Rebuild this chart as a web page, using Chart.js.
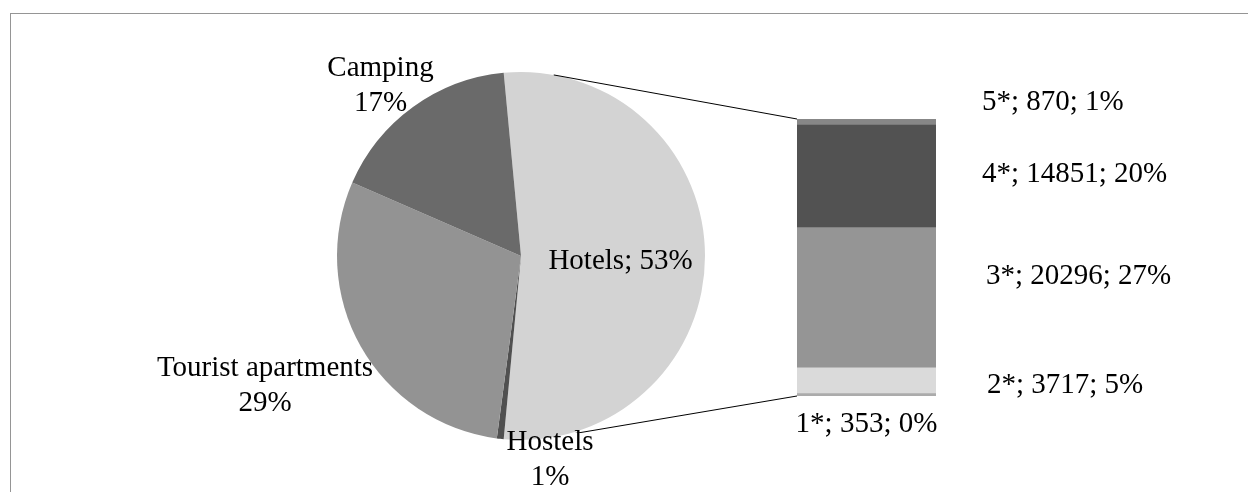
<!DOCTYPE html>
<html>
<head>
<meta charset="utf-8">
<script src="https://cdn.jsdelivr.net/npm/chart.js@4.4.1/dist/chart.umd.min.js"></script>
<style>
  html, body { margin: 0; padding: 0; background: #fff; }
  #wrap { position: relative; width: 1248px; height: 492px; overflow: hidden; }
  #wrap canvas { position: absolute; left: 0; top: 0; }
  #frame { position: absolute; left: 10px; top: 13px; right: -5px; bottom: -5px;
           border-top: 1px solid #959595; border-left: 1px solid #959595; }
</style>
</head>
<body>
<div id="wrap">
  <div id="frame"></div>
  <canvas id="pieChart" width="1248" height="492"></canvas>
  <canvas id="barChart" width="1248" height="492"></canvas>
</div>
<script>
// hotels broken down by star class (bottom to top of the bar)
const hotelClasses = ['1*', '2*', '3*', '4*', '5*'];
const hotelValues = [353, 3717, 20296, 14851, 870];

// the rest of the accommodation types
const otherLabels = ['Hostels', 'Tourist apartments', 'Camping'];
const otherValues = [454, 22259, 12836];

const hotelsTotal = hotelValues.reduce((a, b) => a + b, 0);
const pieLabels = ['Hotels', ...otherLabels];
const pieValues = [hotelsTotal, ...otherValues];
const grandTotal = pieValues.reduce((a, b) => a + b, 0);

const pieColors = ['#d3d3d3', '#505050', '#939393', '#6a6a6a'];
const barColors = ['#ababab', '#dadada', '#959595', '#525252', '#878787'];

const FONT = '29px "Liberation Serif", "Times New Roman", serif';
const LINE_H = 35;

const pct = v => Math.round(v / grandTotal * 100) + '%';

// label anchors relative to pie centre: [dx, dy of middle baseline]
const pieLabelAt = [[99.5, 13], [29, 211.5], [-256, 137], [-140.5, -163]];

// bar labels: [dx from bar right edge, baseline dy from segment middle]
const barLabelAt = [null, [51, 12], [50, -14], [46, 6], [46, -12]];

function drawLines(ctx, lines, x, yMid) {
  const y0 = yMid - (lines.length - 1) * LINE_H / 2;
  lines.forEach((t, i) => ctx.fillText(t, x, y0 + i * LINE_H));
}

function hostelsBox(ctx, arc) {
  ctx.font = FONT;
  const w = ctx.measureText('Hostels').width;
  const [dx, dy] = pieLabelAt[1];
  const baseline = arc.y + dy - LINE_H / 2;
  return { x: arc.x + dx - w / 2 - 2, y: baseline - 17, w: w + 4, h: 80 };
}

const pieLabelPlugin = {
  id: 'pieLabels',
  afterDraw(chart) {
    const ctx = chart.ctx;
    const arc = chart.getDatasetMeta(0).data[0];
    ctx.save();
    ctx.font = FONT;
    ctx.fillStyle = '#000';
    ctx.textAlign = 'center';
    ctx.textBaseline = 'alphabetic';
    pieLabels.forEach((name, i) => {
      const [dx, dy] = pieLabelAt[i];
      const p = pct(pieValues[i]);
      const lines = i === 0 ? [name + '; ' + p] : [name, p];
      drawLines(ctx, lines, arc.x + dx, arc.y + dy);
    });
    ctx.restore();
  }
};

// tangent point on the pie circle seen from point (px, py)
function tangent(arc, px, py, upper) {
  const r = arc.outerRadius;
  const dx = px - arc.x, dy = py - arc.y;
  const phi = Math.atan2(dy, dx);
  const a = Math.acos(r / Math.hypot(dx, dy));
  const t = upper ? phi - a : phi + a;
  return [arc.x + r * Math.cos(t), arc.y + r * Math.sin(t)];
}

const barLabelPlugin = {
  id: 'barLabels',
  afterDraw(chart) {
    const ctx = chart.ctx;
    const metas = hotelClasses.map((_, i) => chart.getDatasetMeta(i).data[0]);
    const top = metas[metas.length - 1];
    const bottom = metas[0];
    const left = top.x - top.width / 2;
    const right = top.x + top.width / 2;

    // series lines from the pie to the bar
    const arc = pieChart.getDatasetMeta(0).data[0];
    const box = hostelsBox(ctx, arc);
    ctx.save();
    ctx.beginPath();
    ctx.rect(0, 0, chart.width, chart.height);
    ctx.rect(box.x, box.y, box.w, box.h);
    ctx.clip('evenodd');
    ctx.strokeStyle = '#000';
    ctx.lineWidth = 1;
    const t1 = tangent(arc, left, top.y, true);
    const t2 = tangent(arc, left, bottom.base, false);
    ctx.beginPath();
    ctx.moveTo(t1[0], t1[1]);
    ctx.lineTo(left, top.y);
    ctx.moveTo(t2[0], t2[1]);
    ctx.lineTo(left, bottom.base);
    ctx.stroke();
    ctx.restore();

    ctx.save();
    ctx.font = FONT;
    ctx.fillStyle = '#000';
    ctx.textBaseline = 'alphabetic';
    hotelClasses.forEach((c, i) => {
      const el = metas[i];
      const text = c + '; ' + hotelValues[i] + '; ' + pct(hotelValues[i]);
      if (i === 0) {
        ctx.textAlign = 'center';
        ctx.fillText(text, el.x, el.base + 36);
      } else {
        const [dx, dy] = barLabelAt[i];
        ctx.textAlign = 'left';
        ctx.fillText(text, right + dx, (el.y + el.base) / 2 + dy);
      }
    });
    ctx.restore();
  }
};

const pieChart = new Chart(document.getElementById('pieChart'), {
  type: 'pie',
  data: {
    labels: pieLabels,
    datasets: [{
      data: pieValues,
      backgroundColor: pieColors,
      borderWidth: 0
    }]
  },
  options: {
    responsive: false,
    animation: false,
    events: [],
    // hotels slice centred on the right-hand side
    rotation: 90 - 180 * hotelsTotal / grandTotal,
    layout: { padding: { left: 337, right: 543, top: 72, bottom: 52 } },
    plugins: {
      legend: { display: false },
      tooltip: { enabled: false }
    }
  },
  plugins: [pieLabelPlugin]
});

const barChart = new Chart(document.getElementById('barChart'), {
  type: 'bar',
  data: {
    labels: ['Hotels'],
    datasets: hotelClasses.map((c, i) => ({
      label: c,
      data: [hotelValues[i]],
      backgroundColor: barColors[i],
      borderWidth: 0,
      barPercentage: 1,
      categoryPercentage: 1
    }))
  },
  options: {
    responsive: false,
    animation: false,
    events: [],
    layout: { padding: { left: 797, right: 312, top: 119, bottom: 96 } },
    scales: {
      x: { stacked: true, display: false },
      y: { stacked: true, display: false, min: 0, max: hotelsTotal }
    },
    plugins: {
      legend: { display: false },
      tooltip: { enabled: false }
    }
  },
  plugins: [barLabelPlugin]
});
</script>
</body>
</html>
